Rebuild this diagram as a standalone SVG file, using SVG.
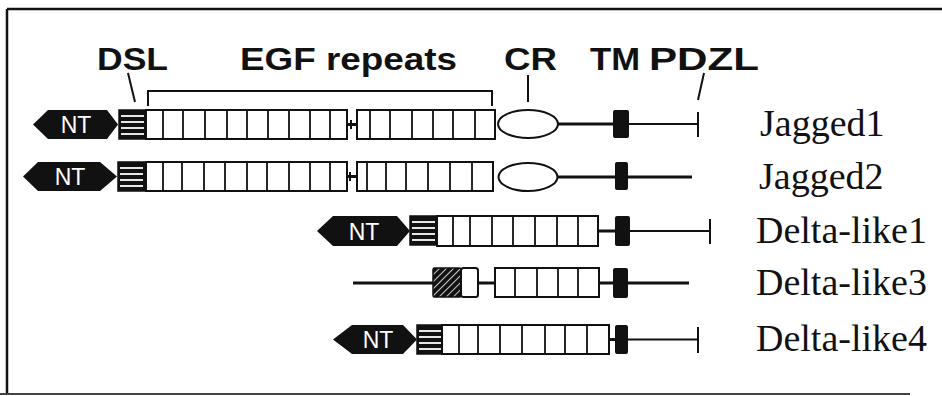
<svg xmlns="http://www.w3.org/2000/svg" xmlns:xlink="http://www.w3.org/1999/xlink" width="942" height="396" viewBox="0 0 942 396">
<style>
.bg{fill:#fff}
.frame{stroke:#111;stroke-width:2.5;fill:none}
.hex{fill:#111}
.nt{font-family:"Liberation Sans",Arial,sans-serif;font-size:23px;fill:#fff;text-anchor:middle}
.box{fill:#fff;stroke:#111;stroke-width:2}
.div{stroke:#111;stroke-width:1.8}
.thick{stroke:#111;stroke-width:3;fill:none}
.thin{stroke:#111;stroke-width:2;fill:none}
.tm{fill:#111}
.cr{fill:#fff;stroke:#111;stroke-width:2}
.hd{font-family:"Liberation Sans",Arial,sans-serif;font-weight:bold;font-size:31px;fill:#111}
.lbl{font-family:"Liberation Serif","Times New Roman",serif;font-size:38px;fill:#111}
</style>
<defs>
<g id="dsl">
<rect x="0" y="0" width="27" height="29" fill="#111" stroke="#111" stroke-width="1.5"/>
<g stroke="#fff" stroke-width="1.8">
<line x1="2" y1="6" x2="25" y2="6"/>
<line x1="2" y1="12" x2="25" y2="12"/>
<line x1="2" y1="18" x2="25" y2="18"/>
<line x1="2" y1="24" x2="25" y2="24"/>
</g>
</g>
<pattern id="hatch" patternUnits="userSpaceOnUse" width="5" height="5" patternTransform="rotate(45)">
<rect width="5" height="5" fill="#111"/>
<line x1="0" y1="0" x2="0" y2="5" stroke="#fff" stroke-width="1.5"/>
</pattern>
</defs>
<rect class="bg" width="942" height="396"/>
<g id="frame">
<line class="frame" x1="7" y1="9" x2="942" y2="9"/>
<line class="frame" x1="7" y1="9" x2="7" y2="395"/>
<line x1="0" y1="394" x2="910" y2="394" stroke="#444" stroke-width="2"/>
</g>
<g id="headers">
<text class="hd" x="97" y="70" textLength="71" lengthAdjust="spacingAndGlyphs">DSL</text>
<text class="hd" x="240" y="70" textLength="217" lengthAdjust="spacingAndGlyphs">EGF repeats</text>
<text class="hd" x="504" y="70" textLength="53" lengthAdjust="spacingAndGlyphs">CR</text>
<text class="hd" x="590" y="70" textLength="50" lengthAdjust="spacingAndGlyphs">TM</text>
<text class="hd" x="649" y="70" textLength="110" lengthAdjust="spacingAndGlyphs">PDZL</text>
</g>
<g id="connectors">
<line class="thin" x1="128" y1="73" x2="135" y2="102"/>
<path class="thin" d="M148,106 V91 H492 V106"/>
<line class="thin" x1="528" y1="75" x2="528" y2="102"/>
<line class="thin" x1="704" y1="73" x2="698" y2="100"/>
</g>
<g id="jagged1">
<polygon class="hex" points="33,124.5 48,110 107,110 118,124.5 107,139 48,139"/>
<text class="nt" x="76" y="133">NT</text>
<use xlink:href="#dsl" x="119" y="110"/>
<rect class="box" x="146" y="110" width="201" height="29"/>
<path class="div" d="M163,110V139M183,110V139M205,110V139M227,110V139M247,110V139M268,110V139M289,110V139M310,110V139M330,110V139"/>
<line class="thick" x1="347" y1="124.5" x2="357" y2="124.5"/>
<line class="thin" x1="351" y1="120" x2="351" y2="129"/>
<rect class="box" x="357" y="110" width="138" height="29"/>
<path class="div" d="M370,110V139M390,110V139M412,110V139M433,110V139M453,110V139M475,110V139"/>
<ellipse class="cr" cx="528" cy="124" rx="30" ry="14"/>
<line class="thick" x1="558" y1="124" x2="614" y2="124"/>
<rect class="tm" x="613" y="110" width="16" height="28" rx="2"/>
<line class="thin" x1="629" y1="124" x2="698" y2="124"/>
<line class="thin" x1="698" y1="112" x2="698" y2="137"/>
<text class="lbl" x="760" y="136">Jagged1</text>
</g>
<g id="jagged2">
<polygon class="hex" points="23,176.5 38,162 100,162 117,176.5 100,191 38,191"/>
<text class="nt" x="70" y="185">NT</text>
<use xlink:href="#dsl" x="118" y="162"/>
<rect class="box" x="146" y="162" width="201" height="29"/>
<path class="div" d="M163,162V191M182,162V191M204,162V191M225,162V191M247,162V191M267,162V191M289,162V191M310,162V191M330,162V191"/>
<line class="thick" x1="347" y1="176.5" x2="357" y2="176.5"/>
<line class="thin" x1="350" y1="172" x2="350" y2="181"/>
<rect class="box" x="357" y="162" width="136" height="29"/>
<path class="div" d="M367,162V191M386,162V191M406,162V191M428,162V191M450,162V191M472,162V191"/>
<ellipse class="cr" cx="528" cy="177" rx="29.5" ry="14"/>
<line class="thick" x1="558" y1="177" x2="692" y2="177"/>
<rect class="tm" x="615" y="162" width="13" height="28" rx="2"/>
<text class="lbl" x="759" y="189">Jagged2</text>
</g>
<g id="deltalike1">
<polygon class="hex" points="317,231 333,216 397,216 410,231 397,246 333,246"/>
<text class="nt" x="364" y="240">NT</text>
<use xlink:href="#dsl" x="410" y="216"/>
<rect class="box" x="437" y="216" width="161" height="30"/>
<path class="div" d="M453,216V246M470,216V246M492,216V246M513,216V246M535,216V246M557,216V246M578,216V246"/>
<line class="thick" x1="598" y1="231" x2="616" y2="231"/>
<rect class="tm" x="615" y="216" width="15" height="30" rx="2"/>
<line class="thin" x1="630" y1="231" x2="710" y2="231"/>
<line class="thin" x1="710" y1="219" x2="710" y2="244"/>
<text class="lbl" x="756" y="243">Delta-like1</text>
</g>
<g id="deltalike3">
<line class="thick" x1="353" y1="283" x2="434" y2="283"/>
<rect x="433" y="268" width="28" height="29" fill="url(#hatch)" stroke="#111" stroke-width="1.5" rx="1.5"/>
<rect class="box" x="461" y="268" width="17" height="29" rx="2.5"/>
<line class="thick" x1="478" y1="283" x2="495" y2="283"/>
<rect class="box" x="495" y="268" width="104" height="29"/>
<path class="div" d="M515,268V297M537,268V297M558,268V297M578,268V297"/>
<line class="thick" x1="599" y1="283" x2="689" y2="283"/>
<rect class="tm" x="613" y="268" width="15" height="30" rx="2"/>
<text class="lbl" x="756" y="295">Delta-like3</text>
</g>
<g id="deltalike4">
<polygon class="hex" points="333,339.5 352,325 403,325 417,339.5 403,354 352,354"/>
<text class="nt" x="378" y="348">NT</text>
<use xlink:href="#dsl" x="417" y="325"/>
<rect class="box" x="442" y="325" width="167" height="29"/>
<path class="div" d="M459,325V354M478,325V354M500,325V354M522,325V354M545,325V354M565,325V354M587,325V354"/>
<line class="thick" x1="609" y1="339.5" x2="616" y2="339.5"/>
<rect class="tm" x="615" y="325" width="13" height="29" rx="2"/>
<line class="thin" x1="628" y1="339.5" x2="698" y2="339.5"/>
<line class="thin" x1="698" y1="327" x2="698" y2="353"/>
<text class="lbl" x="756" y="351">Delta-like4</text>
</g>
</svg>
